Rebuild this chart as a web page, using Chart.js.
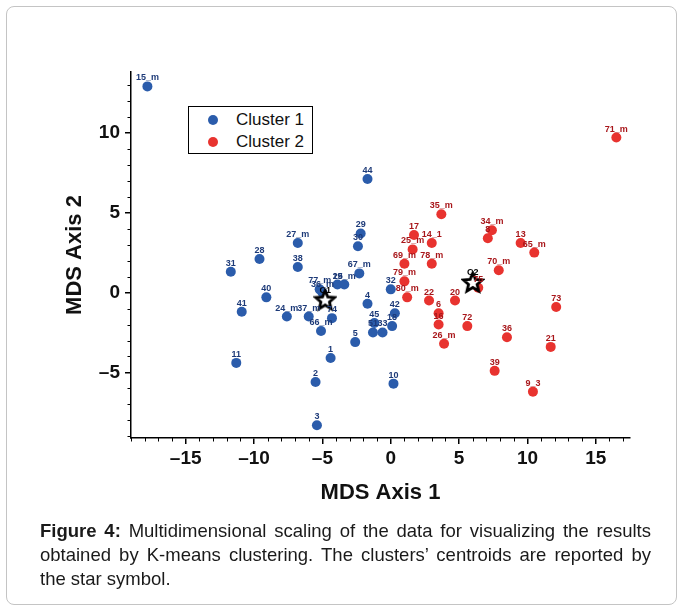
<!DOCTYPE html>
<html>
<head>
<meta charset="utf-8">
<script src="https://cdn.jsdelivr.net/npm/chart.js@4.4.0/dist/chart.umd.min.js"></script>
<style>
  body { margin: 0; background: #fff; font-family: Arial, "Liberation Sans", sans-serif; }
  #frame { position: absolute; left: 6px; top: 6px; width: 669px; height: 597px; border: 1px solid #c4c4c4; border-radius: 8px; }
  #wrap { position: absolute; left: 0; top: 0; width: 678px; height: 520px; }
  #legend { position: absolute; left: 188px; top: 106px; width: 123px; height: 46px; border: 1px solid #000; background: #fff; }
  #legend div { position: absolute; left: 0; height: 22px; line-height: 22px; font-size: 17px; color: #111; white-space: nowrap; }
  #legend span { position: absolute; left: 19px; top: 6px; width: 10px; height: 10px; border-radius: 50%; }
  #legend b { position: absolute; left: 47px; font-weight: normal; }
  #caption { position: absolute; left: 40px; top: 519px; width: 611px; font-size: 18.5px; line-height: 24px; color: #1a1a1a; text-align: justify; margin: 0; }
</style>
</head>
<body>
<div id="frame"></div>
<div id="wrap"><canvas id="mds"></canvas></div>
<div id="legend"></div>
<p id="caption"><b>Figure 4:</b> Multidimensional scaling of the data for visualizing the results obtained by K-means clustering. The clusters’ centroids are reported by the star symbol.</p>
<script>
const seriesNames = ['Cluster 1', 'Cluster 2'];
const seriesColors = ['#2b5cab', '#e8332f'];
const labelColors = ['#1d3a78', '#a8161a'];

const c1Labels = ['15_m', '44', '29', '30', '27_m', '28', '38', '31', '40', '41', '24_m', '37_m', '67_m', '19', '25_m', '77_m', '36_m', '74', '66_m', '4', '45', '51', '33', '18', '42', '5', '1', '2', '3', '11', '10', '32'];
const c1X = [-17.8, -1.7, -2.2, -2.4, -6.8, -9.6, -6.8, -11.7, -9.1, -10.9, -7.6, -6.0, -2.3, -3.9, -3.4, -5.2, -5.0, -4.3, -5.1, -1.7, -1.2, -1.3, -0.6, 0.1, 0.3, -2.6, -4.4, -5.5, -5.4, -11.3, 0.2, 0.0];
const c1Y = [12.9, 7.1, 3.7, 2.9, 3.1, 2.1, 1.6, 1.3, -0.3, -1.2, -1.5, -1.5, 1.2, 0.5, 0.5, 0.2, 0.0, -1.6, -2.4, -0.7, -1.9, -2.5, -2.5, -2.1, -1.3, -3.1, -4.1, -5.6, -8.3, -4.4, -5.7, 0.2];

const c2Labels = ['71_m', '35_m', '17', '14_1', '25_m', '34_m', '8', '13', '65_m', '70_m', '75', '20', '73', '72', '36', '21', '39', '9_3', '26_m', '16', '6', '22', '80_m', '79_m', '69_m', '78_m'];
const c2X = [16.5, 3.7, 1.7, 3.0, 1.6, 7.4, 7.1, 9.5, 10.5, 7.9, 6.4, 4.7, 12.1, 5.6, 8.5, 11.7, 7.6, 10.4, 3.9, 3.5, 3.5, 2.8, 1.2, 1.0, 1.0, 3.0];
const c2Y = [9.7, 4.9, 3.6, 3.1, 2.7, 3.9, 3.4, 3.1, 2.5, 1.4, 0.3, -0.5, -0.9, -2.1, -2.8, -3.4, -4.9, -6.2, -3.2, -2.0, -1.3, -0.5, -0.3, 0.7, 1.8, 1.8];

const centLabels = ['C1', 'C2'];
const centX = [-4.8, 6.0];
const centY = [-0.5, 0.6];

const xTicks = [-15, -10, -5, 0, 5, 10, 15];
const yTicks = [-5, 0, 5, 10];

function pts(xs, ys) {
  return xs.map((v, i) => ({ x: v, y: ys[i] }));
}

function makeStar(size) {
  const c = document.createElement('canvas');
  c.width = size; c.height = size;
  const g = c.getContext('2d');
  const r = size / 2 - 2, ri = r * 0.45;
  g.beginPath();
  for (let k = 0; k < 10; k++) {
    const a = -Math.PI / 2 + k * Math.PI / 5;
    const rr = k % 2 ? ri : r;
    g.lineTo(size / 2 + rr * Math.cos(a), size / 2 + rr * Math.sin(a));
  }
  g.closePath();
  g.fillStyle = '#fff';
  g.fill();
  g.lineWidth = 2.8;
  g.strokeStyle = '#000';
  g.stroke();
  return c;
}

// legend
const legend = document.getElementById('legend');
seriesNames.forEach((n, i) => {
  const row = document.createElement('div');
  row.style.top = (2 + i * 22) + 'px';
  row.innerHTML = '<span style="background:' + seriesColors[i] + '"></span><b>' + n + '</b>';
  legend.appendChild(row);
});

const pointLabels = {
  id: 'pointLabels',
  afterDatasetsDraw(chart) {
    const ctx = chart.ctx;
    ctx.save();
    ctx.font = 'bold 9px Arial';
    ctx.textAlign = 'center';
    ctx.textBaseline = 'bottom';
    chart.data.datasets.forEach((ds, i) => {
      const meta = chart.getDatasetMeta(i);
      ctx.fillStyle = ds.labelColor;
      meta.data.forEach((pt, j) => {
        ctx.fillText(ds.names[j], pt.x, pt.y - ds.labelGap);
      });
    });
    ctx.restore();
  }
};

const minorTicks = {
  id: 'minorTicks',
  afterDraw(chart) {
    const { ctx, scales: { x, y } } = chart;
    ctx.save();
    ctx.strokeStyle = '#000';
    ctx.lineWidth = 1;
    ctx.beginPath();
    for (let v = Math.ceil(x.min); v <= x.max; v++) {
      if (v % 5 === 0) continue;
      const px = Math.round(x.getPixelForValue(v)) + 0.5;
      ctx.moveTo(px, x.top);
      ctx.lineTo(px, x.top + 3.5);
    }
    for (let v = Math.ceil(y.min); v <= y.max; v++) {
      if (v % 5 === 0) continue;
      const py = Math.round(y.getPixelForValue(v)) + 0.5;
      ctx.moveTo(y.right, py);
      ctx.lineTo(y.right - 3.5, py);
    }
    ctx.stroke();
    ctx.restore();
  }
};

const fmt = v => v < 0 ? '\u2013' + Math.abs(v) : String(v);

new Chart(document.getElementById('mds'), {
  type: 'scatter',
  data: {
    datasets: [
      {
        label: 'Centroids',
        data: pts(centX, centY),
        names: centLabels,
        labelColor: '#000',
        labelGap: 6,
        pointStyle: makeStar(24),
        pointRadius: 12
      },
      {
        label: seriesNames[0],
        data: pts(c1X, c1Y),
        names: c1Labels,
        labelColor: labelColors[0],
        labelGap: 4,
        backgroundColor: seriesColors[0],
        borderColor: seriesColors[0],
        pointRadius: 5,
        borderWidth: 0
      },
      {
        label: seriesNames[1],
        data: pts(c2X, c2Y),
        names: c2Labels,
        labelColor: labelColors[1],
        labelGap: 4,
        backgroundColor: seriesColors[1],
        borderColor: seriesColors[1],
        pointRadius: 5,
        borderWidth: 0
      }
    ]
  },
  options: {
    responsive: true,
    maintainAspectRatio: false,
    animation: false,
    events: [],
    layout: { padding: { left: 50, top: 72, right: 48, bottom: 12 } },
    plugins: { legend: { display: false }, tooltip: { enabled: false } },
    scales: {
      x: {
        type: 'linear',
        min: -19, max: 17.5,
        afterBuildTicks: s => { s.ticks = xTicks.map(v => ({ value: v })); },
        afterFit: s => { s.height = 70; },
        border: { color: '#000', width: 1.5 },
        grid: { drawOnChartArea: false, color: '#000', tickLength: 6, lineWidth: 1.5 },
        ticks: { color: '#111', font: { family: 'Arial', size: 19, weight: 'bold' }, padding: 3, callback: fmt, maxRotation: 0 },
        title: { display: true, text: 'MDS Axis 1', color: '#111', font: { family: 'Arial', size: 22, weight: 'bold' }, padding: { top: 0, bottom: 2 } }
      },
      y: {
        type: 'linear',
        min: -9.1, max: 13.8,
        afterBuildTicks: s => { s.ticks = yTicks.map(v => ({ value: v })); },
        afterFit: s => { s.width = 81; },
        border: { color: '#000', width: 1.5 },
        grid: { drawOnChartArea: false, color: '#000', tickLength: 6, lineWidth: 1.5 },
        ticks: { color: '#111', font: { family: 'Arial', size: 19, weight: 'bold' }, padding: 5, callback: fmt },
        title: { display: true, text: 'MDS Axis 2', color: '#111', font: { family: 'Arial', size: 22, weight: 'bold' }, padding: { top: 12, bottom: 0 } }
      }
    }
  },
  plugins: [pointLabels, minorTicks]
});
</script>
</body>
</html>
